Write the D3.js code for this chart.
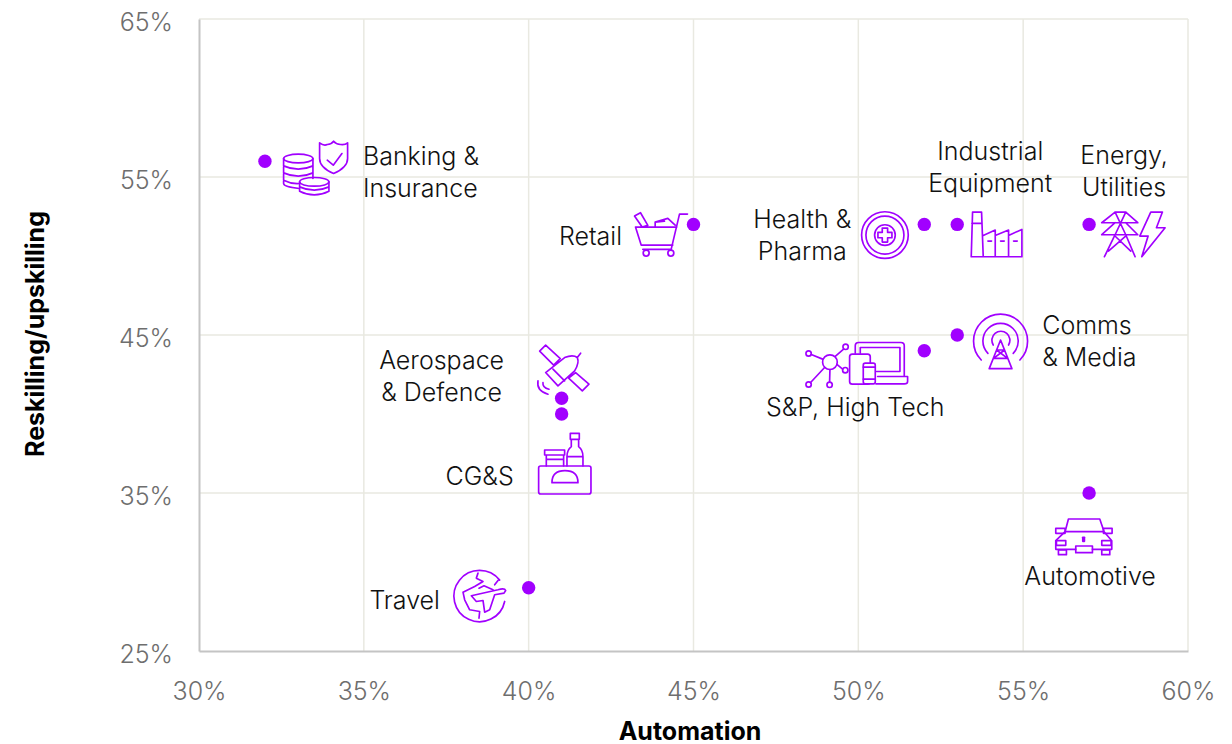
<!DOCTYPE html>
<html><head><meta charset="utf-8">
<script src="https://cdn.jsdelivr.net/npm/d3@7/dist/d3.min.js"></script>
<style>
html,body{margin:0;padding:0;background:#fff}
svg{display:block}
text{font-family:Inter,Lato,"Open Sans",sans-serif}
.tick text{font-weight:300;font-size:25px;fill:#6e6e6e}
.lbl{font-weight:300;font-size:25px;fill:#111}
.ttl{font-weight:700;font-size:25px;fill:#000}
.icon *{fill:none;stroke:#a100ff;stroke-width:5;stroke-linejoin:round;stroke-linecap:round}
</style></head><body>
<svg id="c" width="1232" height="744"></svg>
<script>
const categories=["Banking & Insurance","Retail","Health & Pharma","Industrial Equipment","Energy, Utilities","Comms & Media","S&P, High Tech","Aerospace & Defence","CG&S","Travel","Automotive"];
const automation=[32,45,52,53,57,53,52,41,41,40,57];
const reskilling=[56,52,52,52,52,45,44,41,40,29,35];
const labelLines=[["Banking &","Insurance"],["Retail"],["Health &","Pharma"],["Industrial","Equipment"],["Energy,","Utilities"],["Comms","& Media"],["S&P, High Tech"],["Aerospace","& Defence"],["CG&S"],["Travel"],["Automotive"]];
const xTicks=[30,35,40,45,50,55,60];
const yTicks=[25,35,45,55,65];

// layout, kept apart from the values: label anchor offset from dot
const labelLayout=[[98,4,"start"],[-103,21,"middle"],[-122,4,"middle"],[33,-64,"middle"],[35,-60,"middle"],[85,-1,"start"],[-69,65,"middle"],[-120,-29,"middle"],[-82,71,"middle"],[-124,21,"middle"],[1,92,"middle"]];
// icon crop origin offset from dot; icon paths are drawn at 3x and scaled to 1/3
const iconOffset=[[-15,-31],[-74,-25],[-305,-25],[-8,-25],[-140,-25],[-158,-25],[-125,-41],[-32,-59],[-32,-74],[-84,-28],[-50,-13]];
const iconShapes=[
`<ellipse cx="145" cy="85" rx="44" ry="13"/><path d="M101 85V160Q101 170 148 175M189 85V145M101 107Q145 127 189 107M101 128Q145 148 189 128M101 150Q125 162 148 160"/><ellipse cx="193" cy="155" rx="44" ry="13"/><path d="M149 155V183Q193 205 237 183V155M149 170Q193 190 237 170"/><path d="M209 38Q222 48 232 43Q245 42 251 33Q258 42 272 43Q285 45 293 38V85Q293 112 251 130Q209 112 209 85Z"/><path d="M232 90L250 105L276 70"/>`,
`<path d="M204 44H180L155 150H70M48 83H172M48 83L65 137H160M45 50L63 40L85 78L68 83ZM107 83V68L145 57L167 77M107 68L135 65"/><circle cx="80" cy="161" r="9"/><circle cx="154" cy="161" r="9"/>`,
`<circle cx="797" cy="107" r="70"/><circle cx="797" cy="107" r="57"/><circle cx="797" cy="107" r="31"/><path d="M789 86H805V99H818V115H805V128H789V115H776V99H789Z"/>`,
`<path d="M66 172L70 38H97L102 172M68 72H98M102 108L138 92V172M138 108L178 92V172M178 108L218 90V172M66 172H218M116 125H127M154 125H165M193 125H204"/>`,
`<path d="M458 70H566L530 38H498ZM458 106H566L530 70M498 70L458 106M498 38L530 106M530 38L498 106M498 106L466 172M530 106L558 172M500 112L545 155M528 112L478 155M605 38H640L622 85H648L578 172L597 110H572Z"/>`,
`<path d="M546 150A81 81 0 1 1 662 150M566 130A53 53 0 1 1 642 130M582 105A27 27 0 1 1 628 105M604 90L570 176H638ZM592 120H616M583 145H625M592 120L625 145M616 120L583 145"/>`,
`<circle cx="92" cy="157" r="22"/><circle cx="28" cy="131" r="8"/><circle cx="139" cy="111" r="8"/><circle cx="28" cy="224" r="8"/><circle cx="91" cy="225" r="8"/><circle cx="138" cy="181" r="8"/><path d="M70 148L36 134M108 140L133 118M76 173L34 218M92 179L91 217M113 164L130 178M168 130V108Q168 98 178 98H305Q315 98 315 108V198M183 130V113H302V185H232M235 200H325V215Q325 222 315 222H230"/><rect x="151" y="133" width="62" height="90" rx="8" fill="#fff" style="fill:#fff"/><rect x="192" y="160" width="36" height="62" rx="6" style="fill:#fff"/><path d="M192 172H228M192 208H228"/>`,
`<path d="M48 18L92 58L72 78L30 36ZM48 100L105 55Q130 45 143 55Q150 70 135 95L85 140ZM70 90L105 125M143 55L153 42M138 100L178 135L158 155L117 117ZM25 125Q20 155 55 165M40 130Q38 145 58 150"/>`,
`<rect x="27" y="378" width="157" height="84" rx="6"/><path d="M67 428H145Q145 392 106 392Q67 392 67 428ZM45 330H105V345H45ZM50 345V378M102 345V378M50 358H102M122 280H149V298H122ZM125 298V320Q112 330 112 350V378M147 298V320Q160 330 160 350V378M112 350H160"/>`,
`<path d="M165 61A77 77 0 1 0 180 125M100 40L95 55L115 65L90 80L55 97L60 120L75 150L105 155L103 175M150 75L160 62M183 92Q180 84 160 90L80 108L95 125L115 122L120 157L135 150L150 105L178 100ZM103 85L118 78L145 90"/>`,
`<path d="M78 155L88 117H182L195 155M50 182L78 155H195L218 182V208H160M110 208H50V182"/><rect x="50" y="145" width="28" height="15"/><rect x="193" y="145" width="26" height="15"/><rect x="52" y="182" width="28" height="14"/><rect x="188" y="182" width="28" height="14"/><rect x="110" y="198" width="50" height="20"/><rect x="58" y="210" width="24" height="14"/><rect x="188" y="210" width="24" height="14"/><rect x="131" y="172" width="5" height="12"/>`
];

const svg=d3.select("#c");
const x=d3.scaleLinear().domain([30,60]).range([199,1188]);
const y=d3.scaleLinear().domain([25,65]).range([651,19]);

svg.append("g").selectAll("line").data(yTicks.filter(d=>d>25)).join("line")
 .attr("x1",199).attr("x2",1188).attr("y1",d=>y(d)).attr("y2",d=>y(d)).attr("stroke","#e9e9e1").attr("stroke-width",1.5);
svg.append("g").selectAll("line").data(xTicks.filter(d=>d>30)).join("line")
 .attr("y1",19).attr("y2",651).attr("x1",d=>x(d)).attr("x2",d=>x(d)).attr("stroke","#e9e9e1").attr("stroke-width",1.5);

const gx=svg.append("g").attr("transform","translate(0,651)")
 .call(d3.axisBottom(x).tickValues(xTicks).tickFormat(d=>d+"%").tickSize(0).tickPadding(49));
const gy=svg.append("g").attr("transform","translate(199,0)")
 .call(d3.axisLeft(y).tickValues(yTicks).tickFormat(d=>d+"%").tickSize(0).tickPadding(26));
[gx,gy].forEach(g=>g.select(".domain").attr("stroke","#c4c4c4").attr("stroke-width",2));
gx.selectAll(".tick text").attr("dy",0);
gy.selectAll(".tick text").attr("dy","0.45em");

svg.append("text").attr("class","ttl").attr("x",690).attr("y",740).attr("text-anchor","middle").text("Automation");
svg.append("text").attr("class","ttl").attr("transform","translate(44,334) rotate(-90)").attr("text-anchor","middle").text("Reskilling/upskilling");

categories.forEach((c,i)=>{
  const px=x(automation[i]),py=y(reskilling[i]);
  const g=svg.append("g").attr("class","icon").attr("data-name",c)
    .attr("transform",`translate(${px+iconOffset[i][0]},${py+iconOffset[i][1]}) scale(${1/3})`);
  g.html(iconShapes[i]);
  const [dx,dy,anchor]=labelLayout[i];
  const t=svg.append("text").attr("class","lbl").attr("text-anchor",anchor);
  labelLines[i].forEach((s,k)=>t.append("tspan").attr("x",px+dx).attr("y",py+dy+k*32).text(s));
});
svg.append("g").selectAll("circle").data(categories).join("circle")
 .attr("cx",(d,i)=>x(automation[i])).attr("cy",(d,i)=>y(reskilling[i])).attr("r",6.7).attr("fill","#a100ff");
</script></body></html>
